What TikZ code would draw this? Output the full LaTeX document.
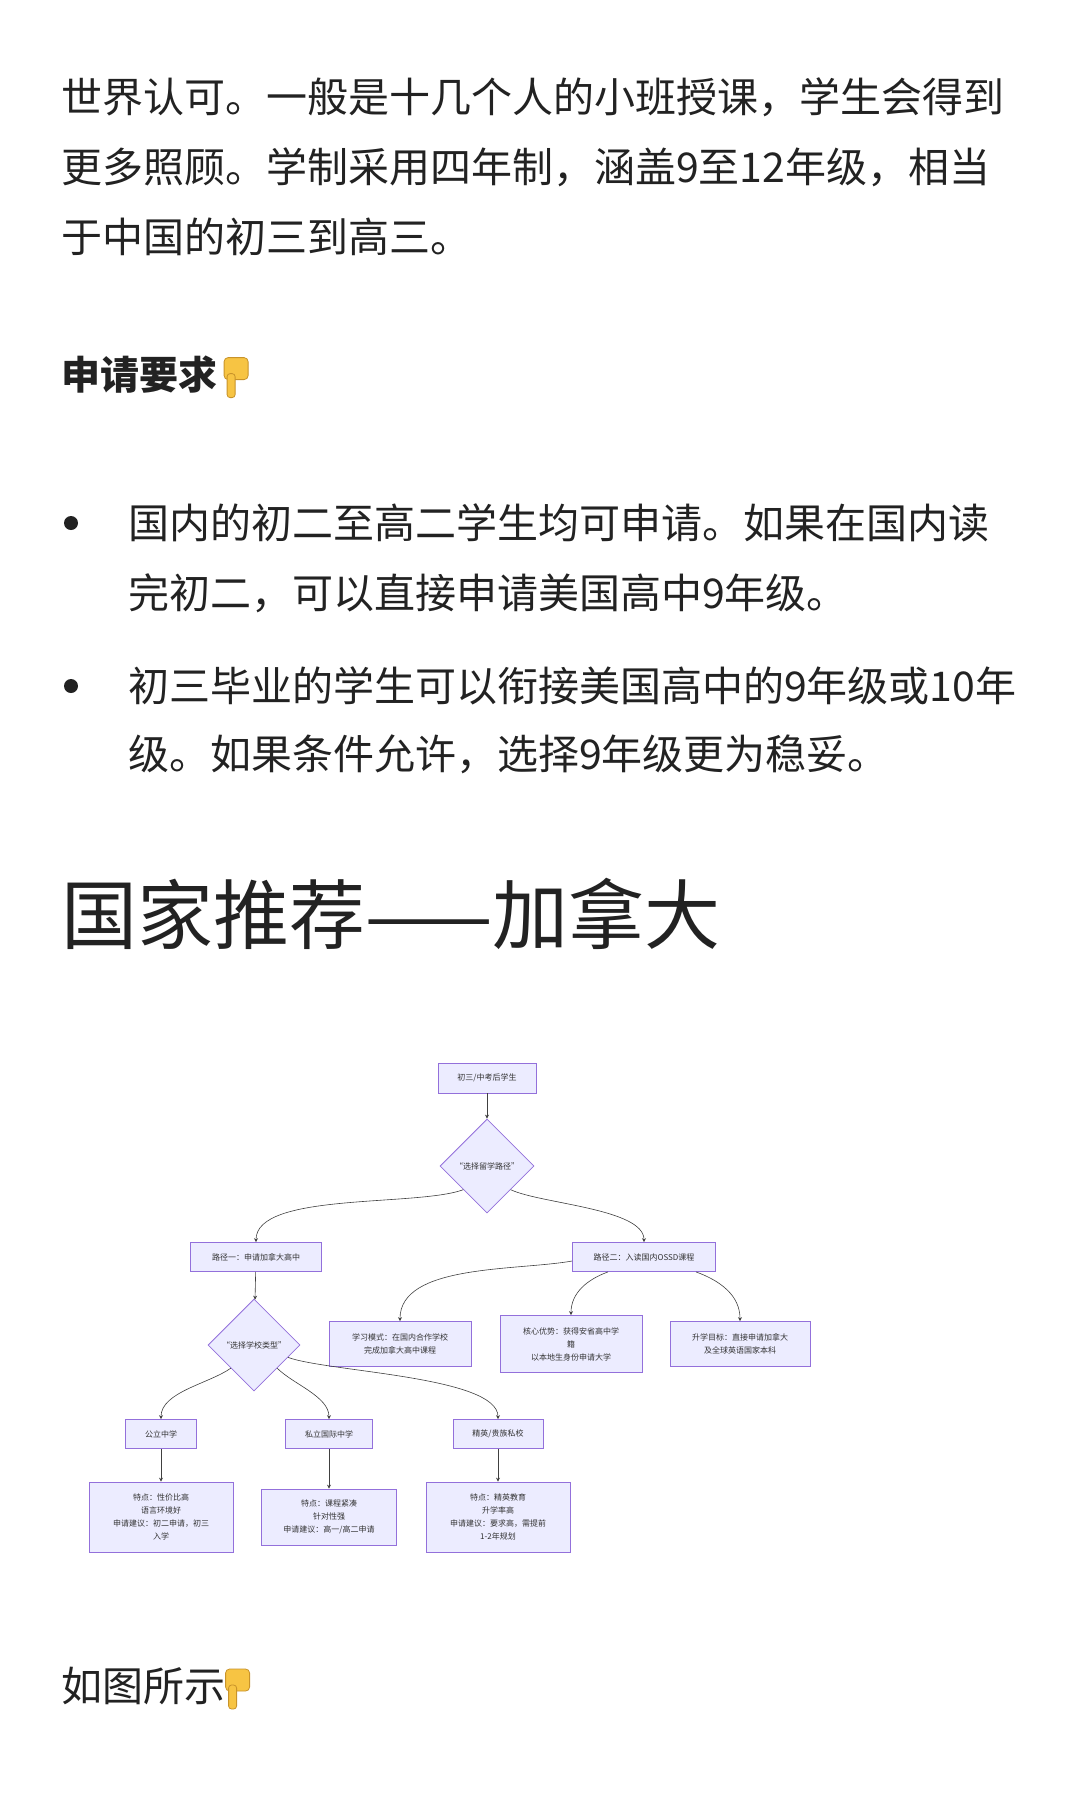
\documentclass[tikz,border=0pt]{standalone}
\usepackage{fontspec}
\setmainfont{Noto Sans CJK SC}
\usetikzlibrary{shapes.geometric,arrows.meta}
\definecolor{boxfill}{HTML}{ECECFF}
\definecolor{boxline}{HTML}{9370DB}
\definecolor{inktext}{HTML}{222222}
\definecolor{skin}{HTML}{F7C443}
\definecolor{skinline}{HTML}{C8932A}
\newcommand{\pointdown}{%
  \tikz[baseline=-2pt, x=1pt, y=1pt, line width=0.8pt]{
    \draw [fill=skin, draw=skinline, rounded corners=4pt] (0,8) rectangle (24,30);
    \draw [fill=skin, draw=skinline, rounded corners=3pt] (3,14) rectangle (11,-10);
  }}
\tikzset{
  body/.style={anchor=west, inner sep=0pt, font=\fontsize{41}{48}\selectfont, text=inktext},
  stage/.style={shape=rectangle, draw=boxline, fill=boxfill, line width=0.8pt, align=center, font=\fontsize{8}{13}\selectfont, text=black!80},
  choice/.style={shape=diamond, draw=boxline, fill=boxfill, line width=0.8pt, aspect=1, inner sep=0pt, minimum size=94pt, font=\fontsize{8}{10}\selectfont, text=black!80},
  link/.style={-{Stealth[length=4pt,width=4pt]}, draw=black!75, line width=0.6pt},
}
\begin{document}
\begin{tikzpicture}[x=1pt, y=-1pt]
\useasboundingbox [fill=white] (0,0) rectangle (1080,1800);

% article text
\node [body] (t1) at (61,97) {世界认可。一般是十几个人的小班授课，学生会得到};
\node [body] (t2) at (61,167) {更多照顾。学制采用四年制，涵盖9至12年级，相当};
\node [body] (t3) at (61,237) {于中国的初三到高三。};
\node [body, font=\fontsize{39}{46}\selectfont\bfseries] (req) at (61,377) {申请要求\,\pointdown};
\node [circle, fill=inktext, minimum size=14pt, inner sep=0pt] (b1) at (71,523) {};
\node [body] (b1a) at (128,523) {国内的初二至高二学生均可申请。如果在国内读};
\node [body] (b1b) at (128,593) {完初二，可以直接申请美国高中9年级。};
\node [circle, fill=inktext, minimum size=14pt, inner sep=0pt] (b2) at (71,686) {};
\node [body] (b2a) at (128,686) {初三毕业的学生可以衔接美国高中的9年级或10年};
\node [body] (b2b) at (128,754) {级。如果条件允许，选择9年级更为稳妥。};
\node [body, font=\fontsize{76}{84}\selectfont] (head) at (61,914) {国家推荐——加拿大};
\node [body] (fig) at (61,1688) {如图所示\pointdown};

% flowchart
\node [stage, minimum width=98pt, minimum height=30pt] (start) at (487,1078) {初三/中考后学生};
\node [choice] (route) at (487,1166) {“选择留学路径”};
\node [stage, minimum width=131pt, minimum height=29pt] (way1) at (256,1257) {路径一：申请加拿大高中};
\node [stage, minimum width=143pt, minimum height=29pt] (way2) at (644,1257) {路径二：入读国内OSSD课程};
\node [choice, minimum size=92pt] (kind) at (254,1345) {“选择学校类型”};
\node [stage, minimum width=142pt, minimum height=45pt] (mode) at (400,1344) {学习模式：在国内合作学校\\完成加拿大高中课程};
\node [stage, minimum width=142pt, minimum height=57pt] (gain) at (571,1344) {核心优势：获得安省高中学\\籍\\以本地生身份申请大学};
\node [stage, minimum width=140pt, minimum height=45pt] (goal) at (740,1344) {升学目标：直接申请加拿大\\及全球英语国家本科};
\node [stage, minimum width=71pt, minimum height=29pt] (pub) at (161,1434) {公立中学};
\node [stage, minimum width=87pt, minimum height=29pt] (intl) at (329,1434) {私立国际中学};
\node [stage, minimum width=90pt, minimum height=29pt] (elite) at (498,1434) {精英/贵族私校};
\node [stage, minimum width=144pt, minimum height=70pt] (pubx) at (161,1517) {特点：性价比高\\语言环境好\\申请建议：初二申请，初三\\入学};
\node [stage, minimum width=135pt, minimum height=56pt] (intlx) at (329,1517) {特点：课程紧凑\\针对性强\\申请建议：高一/高二申请};
\node [stage, minimum width=144pt, minimum height=70pt] (elitex) at (498,1517) {特点：精英教育\\升学率高\\申请建议：要求高，需提前\\1-2年规划};

\draw [link] (start) -- (route);
\draw [link] (route.south west) to[out=200, in=90, looseness=0.6] (way1.north);
\draw [link] (route.south east) to[out=-25, in=90, looseness=0.6] (way2.north);
\draw [link] (way1) -- (kind);
\draw [link] ([yshift=-4pt]way2.west) to[out=190, in=90, looseness=0.8] (mode.north);
\draw [link] ([xshift=-36pt]way2.south) to[out=200, in=90, looseness=1] (gain.north);
\draw [link] ([xshift=52pt]way2.south) to[out=-20, in=90, looseness=1] (goal.north);
\draw [link] (kind.south west) to[out=215, in=90, looseness=0.8] (pub.north);
\draw [link] (kind.south east) to[out=-45, in=90, looseness=0.8] (intl.north);
\draw [link] (kind.-20) to[out=-20, in=90, looseness=0.5] (elite.north);
\draw [link] (pub) -- (pubx);
\draw [link] (intl) -- (intlx);
\draw [link] (elite) -- (elitex);
\end{tikzpicture}
\end{document}
